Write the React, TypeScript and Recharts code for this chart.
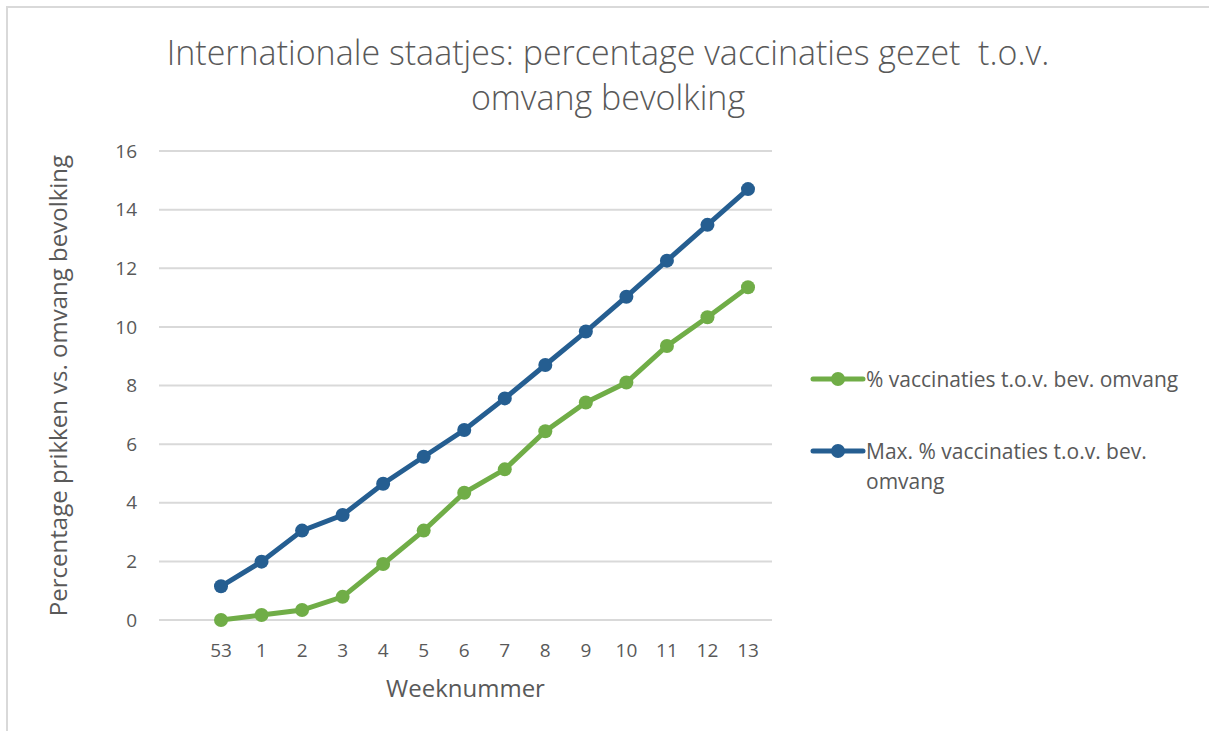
import React from 'react';
import { LineChart, Line, XAxis, YAxis, CartesianGrid, Label } from 'recharts';

const weeks = ['53', '1', '2', '3', '4', '5', '6', '7', '8', '9', '10', '11', '12', '13'];
const vaccinated = [0, 0.17, 0.34, 0.79, 1.91, 3.05, 4.34, 5.14, 6.44, 7.42, 8.1, 9.35, 10.33, 11.35];
const maxVaccinated = [1.15, 1.99, 3.05, 3.58, 4.65, 5.57, 6.48, 7.56, 8.7, 9.84, 11.03, 12.26, 13.48, 14.7];
const yTicks = [0, 2, 4, 6, 8, 10, 12, 14, 16];

const series = [
  { key: 'pct', name: '% vaccinaties t.o.v. bev. omvang', color: '#70AD47' },
  { key: 'max', name: 'Max. % vaccinaties t.o.v. bev. omvang', color: '#255E91' },
];

const data = weeks.map((w, i) => ({ week: w, pct: vaccinated[i], max: maxVaccinated[i] }));

const FONT = '"Open Sans", sans-serif';
const GREY = '#595959';

// legend drawn as plain html so it doesn't eat into the plot area
function LegendBox() {
  return (
    <div style={{ position: 'absolute', left: 810, top: 364, width: 390,
      fontFamily: FONT, fontSize: 21, color: GREY }}>
      {series.map((s, i) => (
        <div key={s.key} style={{ display: 'flex', alignItems: 'flex-start', marginBottom: i === 0 ? 42 : 0 }}>
          <svg width={56} height={30} style={{ flexShrink: 0 }}>
            <line x1={3} y1={15} x2={53} y2={15} stroke={s.color} strokeWidth={5} strokeLinecap="round" />
            <circle cx={28} cy={15} r={7} fill={s.color} />
          </svg>
          <span style={{ lineHeight: '30px' }}>{s.name}</span>
        </div>
      ))}
    </div>
  );
}

export default function App() {
  return (
    <div style={{ position: 'absolute', left: 0, top: 0, width: 1209, height: 731, background: '#fff' }}>
      <div style={{ position: 'absolute', left: 6, top: 6, right: 0, bottom: 0,
        borderTop: '2px solid #d9d9d9', borderLeft: '2px solid #d9d9d9' }} />
      <div style={{ position: 'absolute', left: 0, width: 1216, top: 30, textAlign: 'center',
        fontFamily: FONT, fontSize: 34, color: GREY, lineHeight: '45px', fontWeight: 300 }}>
        Internationale staatjes: percentage vaccinaties gezet&nbsp; t.o.v.<br />omvang bevolking
      </div>
      <LineChart width={1209} height={731} data={data} style={{ position: 'absolute', left: 0, top: 0 }}
        margin={{ top: 151, right: 437, left: 0, bottom: 0 }}>
        <CartesianGrid vertical={false} stroke="#d9d9d9" strokeWidth={2} />
        <XAxis dataKey="week" axisLine={false} tickLine={false} height={111}
          padding={{ left: 62, right: 24 }} tickMargin={18}
          tick={{ fill: GREY, fontSize: 19, fontFamily: FONT }} interval={0}>
          <Label value="Weeknummer" position="insideTop" offset={60}
            style={{ fill: GREY, fontSize: 24, fontFamily: FONT }} />
        </XAxis>
        <YAxis domain={[0, 16]} ticks={yTicks} axisLine={false} tickLine={false} width={159}
          tickMargin={16} tick={{ fill: GREY, fontSize: 19, fontFamily: FONT }}>
          <Label value="Percentage prikken vs. omvang bevolking" angle={-90} position="insideLeft"
            offset={58} style={{ fill: GREY, fontSize: 24, fontFamily: FONT, textAnchor: 'middle' }} />
        </YAxis>
        {series.map(s => (
          <Line key={s.key} dataKey={s.key} name={s.name} type="linear" stroke={s.color} strokeWidth={5}
            dot={{ r: 7, fill: s.color, stroke: s.color, strokeWidth: 0 }} activeDot={false}
            isAnimationActive={false} />
        ))}
      </LineChart>
      <LegendBox />
    </div>
  );
}
